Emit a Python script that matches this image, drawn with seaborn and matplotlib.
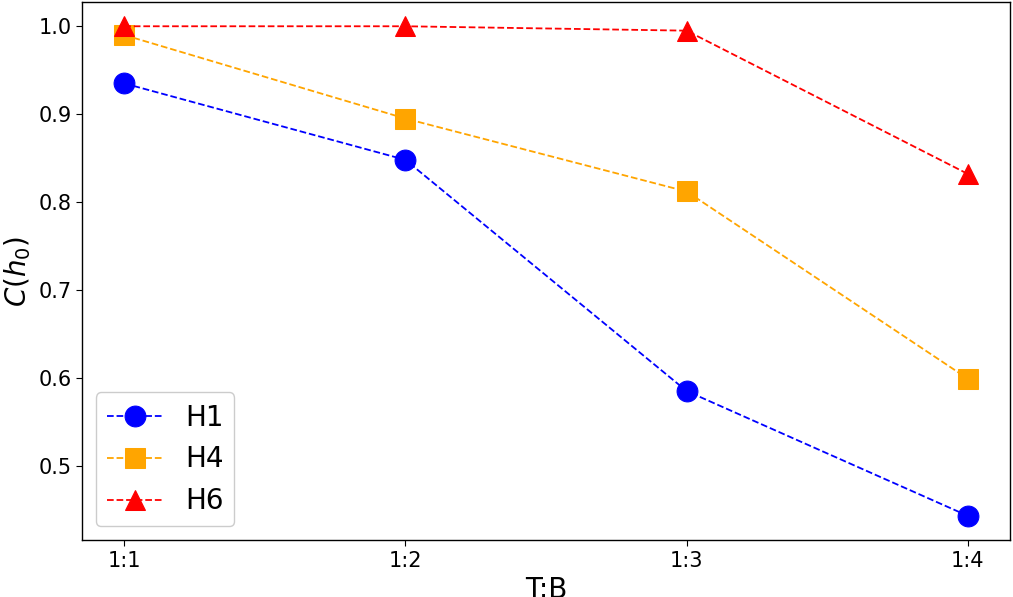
import matplotlib
matplotlib.use("Agg")
import matplotlib.pyplot as plt
import seaborn as sns
import pandas as pd

ratios = ["1:1", "1:2", "1:3", "1:4"]
h1 = [0.935, 0.848, 0.585, 0.443]
h4 = [0.990, 0.895, 0.812, 0.599]
h6 = [1.000, 1.000, 0.995, 0.832]

df = pd.DataFrame({"T:B": ratios * 3,
                   "C": h1 + h4 + h6,
                   "series": ["H1"] * 4 + ["H4"] * 4 + ["H6"] * 4})

sns.set_style("white")
plt.rcParams["text.color"] = "black"
plt.rcParams["axes.labelcolor"] = "black"
plt.rcParams["xtick.color"] = "black"
plt.rcParams["ytick.color"] = "black"
fig, ax = plt.subplots(figsize=(10.13, 5.97), dpi=100)

styles = {"H1": ("blue", "o"), "H4": ("orange", "s"), "H6": ("red", "^")}
for name, (color, marker) in styles.items():
    sub = df[df["series"] == name]
    sns.lineplot(data=sub, x="T:B", y="C", ax=ax, color=color, marker=marker,
                 markersize=15, linestyle="--", linewidth=1.3, label=name,
                 markeredgecolor=color)

for s in ax.spines.values():
    s.set_color("black")
    s.set_linewidth(1)
ax.tick_params(axis="both", labelsize=15, length=4, color="black", left=True, bottom=True)
ax.set_xlabel("T:B", fontsize=20)
ax.set_ylabel("$C(h_0)$", fontsize=20)
ax.legend(fontsize=20, loc="lower left", framealpha=1, edgecolor="#cccccc")
plt.subplots_adjust(left=0.081, right=0.997, top=0.997, bottom=0.095)
plt.savefig("out.png")
